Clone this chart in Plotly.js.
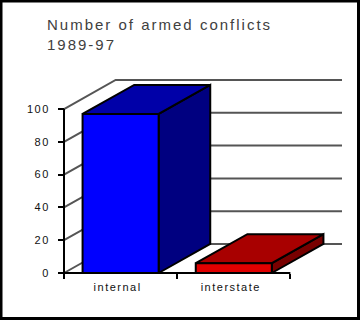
<!DOCTYPE html>
<html>
<head>
<meta charset="utf-8">
<script src="https://cdn.plot.ly/plotly-3.0.1.min.js"></script>
<style>
  body { margin: 0; background: #fff; }
  #chart { width: 360px; height: 320px; }
  .gtitle { letter-spacing: 2px; }
  .xtick text, .ytick text { letter-spacing: 1.5px; }
</style>
</head>
<body>
<div id="chart"></div>
<script>
// ---- data ----
const categories = ['internal', 'interstate'];
const values = [97, 6];
const yTicks = [0, 20, 40, 60, 80, 100];
const titleText = 'Number of armed conflicts<br>1989-97';

// ---- style / geometry (in axis units) ----
const frontColors = ['#0000ff', '#e00000'];
const topColors = ['#0000a8', '#a80000'];
const sideColors = ['#000080', '#780000'];
const halfW = 0.336;   // half bar width
const dx = 0.456;      // depth offset in x units
const dy = 17.7;       // depth offset in y units
const xL = -0.5, xR = categories.length - 0.5;
const yMax = yTicks[yTicks.length - 1];
const FONT = '"Liberation Sans", Arial, sans-serif';

const traces = [];
function line(xs, ys, color, width) {
  traces.push({type: 'scatter', mode: 'lines', x: xs, y: ys,
    line: {color: color, width: width}, hoverinfo: 'skip', showlegend: false});
}
function poly(xs, ys, fill) {
  traces.push({type: 'scatter', mode: 'lines', x: xs, y: ys, fill: 'toself',
    fillcolor: fill, line: {color: '#000', width: 2}, hoverinfo: 'skip', showlegend: false});
}

// left wall diagonals and back-wall gridlines
yTicks.forEach(v => {
  line([xL, xL + dx, xR + dx], [v, v + dy, v + dy], '#555555', 2);
});

// bars (3D): side, top, front
values.forEach((v, i) => {
  const a = i - halfW, b = i + halfW;
  poly([b, b + dx, b + dx, b, b], [0, dy, v + dy, v, 0], sideColors[i]);
  poly([a, b, b + dx, a + dx, a], [v, v, v + dy, v + dy, v], topColors[i]);
  poly([a, b, b, a, a], [0, 0, v, v, 0], frontColors[i]);
});

// front axis lines
line([xL, xL], [0, yMax], '#000', 2);
line([xL, xR], [0, 0], '#000', 2);

const pxPerX = 113, pxPerY = 1.64;
const padPx = 4;
const layout = {
  width: 360, height: 320,
  paper_bgcolor: '#fff', plot_bgcolor: 'rgba(0,0,0,0)',
  margin: {l: 60, r: 14, t: 76, b: 43, pad: 0},
  showlegend: false,
  title: {
    text: titleText, xref: 'container', yref: 'container',
    x: 47 / 360, xanchor: 'left', y: 1 - 30 / 320, yanchor: 'top',
    font: {family: FONT, size: 15, color: '#404040'}
  },
  xaxis: {
    type: 'linear',
    range: [xL - padPx / pxPerX, xR + dx + padPx / pxPerX],
    anchor: 'free', position: padPx / 201,
    showgrid: false, zeroline: false, showline: false,
    tickmode: 'array', tickvals: categories.map((c, i) => i), ticktext: categories,
    ticks: '', ticklabelstandoff: 6, ticklabelshift: -3,
    minor: {tickmode: 'array', tickvals: [-0.5, 0.5, 1.5], ticks: 'outside',
            ticklen: 5, tickwidth: 2, tickcolor: '#000', showgrid: false},
    tickfont: {family: FONT, size: 11, color: '#111'},
    fixedrange: true
  },
  yaxis: {
    type: 'linear',
    range: [-padPx / pxPerY, yMax + dy + padPx / pxPerY],
    anchor: 'free', position: padPx / 286,
    showgrid: false, zeroline: false, showline: false,
    tickmode: 'array', tickvals: yTicks,
    ticks: 'outside', ticklen: 6, tickwidth: 2, tickcolor: '#000',
    ticklabelstandoff: 6,
    tickfont: {family: FONT, size: 11, color: '#111'},
    fixedrange: true
  },
  shapes: [{
    type: 'rect', xref: 'paper', yref: 'paper',
    x0: (1 - 60) / 286, x1: (358.5 - 60) / 286,
    y0: -(318.5 - 277) / 201, y1: (277 - 1) / 201,
    line: {color: '#000', width: 3}, fillcolor: 'rgba(0,0,0,0)', layer: 'above'
  }]
};

Plotly.newPlot('chart', traces, layout, {displayModeBar: false, staticPlot: true});
</script>
</body>
</html>
